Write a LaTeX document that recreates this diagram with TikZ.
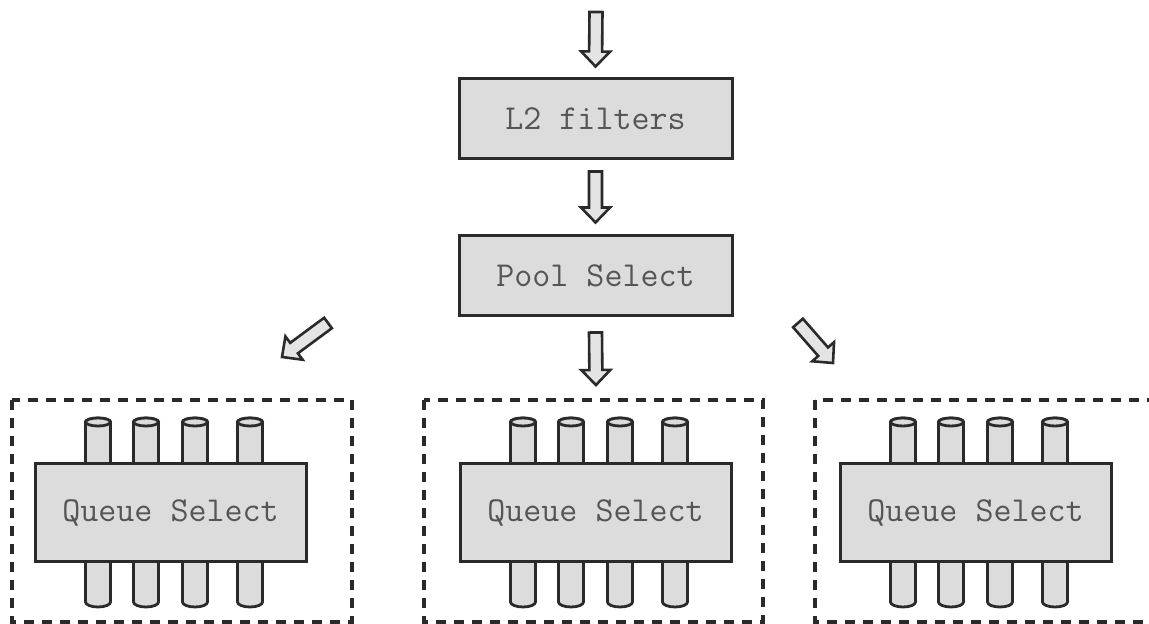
\documentclass[tikz,border=0pt]{standalone}
\usepackage{fontspec}
\usetikzlibrary{calc}
\definecolor{boxgray}{HTML}{DCDCDC}
\definecolor{arrgray}{HTML}{E4E4E4}
\definecolor{linegray}{HTML}{2A2A2A}
\definecolor{txtgray}{HTML}{555555}
\tikzset{
	procbox/.style={draw=linegray,line width=3pt,fill=boxgray,minimum width=273pt,minimum height=80pt,text=txtgray,font=\fontsize{35}{35}\selectfont\ttfamily},
	qbox/.style={procbox,minimum width=271pt,minimum height=98pt},
	grpbox/.style={draw=linegray,line width=3.4pt,dash pattern=on 10pt off 8pt},
	pillar/.style={draw=linegray,line width=2.8pt,fill=boxgray},
	blockarr/.style={draw=linegray,line width=2.6pt,fill=arrgray,line join=miter}
}
\newcommand\blockarrow[2]{%
	\coordinate (hb) at ($(#2)!15pt!(#1)$);
	\draw[blockarr] ($(#1)!6.5pt!90:(#2)$)--($(hb)!6.5pt!90:(#2)$)--($(hb)!14.5pt!90:(#2)$)--(#2)--($(hb)!14.5pt!-90:(#2)$)--($(hb)!6.5pt!-90:(#2)$)--($(#1)!6.5pt!-90:(#2)$)--cycle;
}
\begin{document}
\begin{tikzpicture}[x=1pt,y=1pt]
	\useasboundingbox (0,0) rectangle (1149,624);
	\clip (0,0) rectangle (1149,624);
	\node[procbox] (l2) at (595.5,505) {L2 filters};
	\node[procbox] (pool) at (595.5,348) {Pool Select};
	\coordinate (in) at (596,612);
	\coordinate (l2top) at ($(l2.north)+(0,11)$);
	\coordinate (l2out) at ($(l2.south)+(0,-11)$);
	\coordinate (poolin) at ($(pool.north)+(0,12)$);
	\coordinate (mids) at ($(pool.south)+(0,-15)$);
	\coordinate (mide) at (596,239);
	\coordinate (lefts) at (328,301);
	\coordinate (lefte) at (282,267);
	\coordinate (rights) at (798,301);
	\coordinate (righte) at (833,261);
	\blockarrow{in}{l2top}
	\blockarrow{l2out}{poolin}
	\blockarrow{mids}{mide}
	\blockarrow{lefts}{lefte}
	\blockarrow{rights}{righte}
	\foreach \gx/\gw/\qx/\n in {12/340/35/1,424/339/460/2,815/345/840/3}{
		\draw[grpbox] (\gx,224) rectangle (\gx+\gw,2);
		\begin{scope}[shift={(\qx,0)}]
			\foreach \p in {63,111,160,215}{
				\draw[pillar] (\p-12.5,202)--(\p-12.5,22) arc[start angle=180,end angle=360,x radius=12.5,y radius=5]--(\p+12.5,202) arc[start angle=0,end angle=180,x radius=12.5,y radius=4]--cycle;
				\draw[pillar] (\p,202) ellipse[x radius=12.5,y radius=4];
			}
			\node[qbox] (qs\n) at (135.5,111) {Queue Select};
		\end{scope}
	}
\end{tikzpicture}
\end{document}
